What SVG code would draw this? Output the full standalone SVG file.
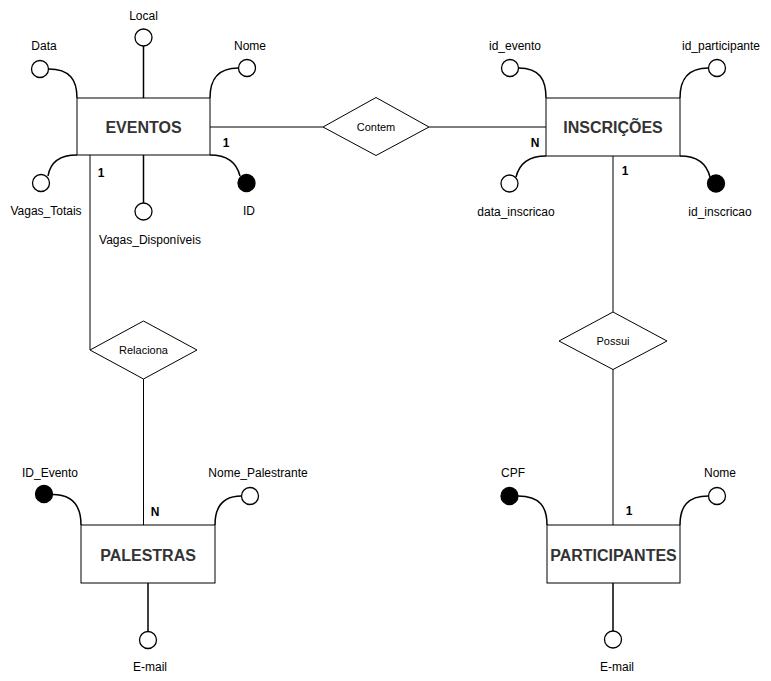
<svg xmlns="http://www.w3.org/2000/svg" width="771" height="681" viewBox="0 0 771 681">
<style>
.ent{fill:#fff;stroke:#000;stroke-width:1}
.rel{fill:#fff;stroke:#000;stroke-width:1}
.con{fill:none;stroke:#000;stroke-width:1}
.att{fill:none;stroke:#000;stroke-width:1.5}
.oc{fill:#fff;stroke:#000;stroke-width:1.3}
.fc{fill:#000;stroke:#000;stroke-width:1.3}
text{font-family:"Liberation Sans",Arial,sans-serif;text-anchor:middle}
.el{font-size:16px;font-weight:bold;fill:#333}
.al{font-size:12px;fill:#000}
.rl{font-size:11px;fill:#000}
.cl{font-size:12px;font-weight:bold;fill:#000}
</style>
<rect width="771" height="681" fill="#fff"/>
<g id="connectors">
<line class="con" x1="210" y1="127" x2="323" y2="127"/>
<line class="con" x1="429" y1="127" x2="546" y2="127"/>
<polyline class="con" points="90,155 90,350"/>
<line class="con" x1="143.5" y1="379" x2="143.5" y2="525"/>
<line class="con" x1="613" y1="156" x2="613" y2="312"/>
<line class="con" x1="613" y1="369" x2="613" y2="525"/>
<text class="cl" x="226" y="147">1</text>
<text class="cl" x="535" y="147">N</text>
<text class="cl" x="101" y="177">1</text>
<text class="cl" x="155" y="516">N</text>
<text class="cl" x="625" y="175">1</text>
<text class="cl" x="629" y="515">1</text>
</g>
<g id="eventos">
<rect class="ent" x="77" y="98" width="133" height="57"/>
<text class="el" x="143.5" y="132.5">EVENTOS</text>
<line class="att" x1="143.5" y1="46" x2="143.5" y2="98"/>
<circle class="oc" cx="143.5" cy="37.5" r="8.5"/>
<text class="al" x="143.5" y="19.5">Local</text>
<path class="att" d="M48.5,69 C70,69 77,80 77,98"/>
<circle class="oc" cx="40" cy="69" r="8.5"/>
<text class="al" x="44" y="49.5">Data</text>
<path class="att" d="M210,98 C210,80 217,68 238.5,68"/>
<circle class="oc" cx="247" cy="68" r="8.5"/>
<text class="al" x="250" y="49.5">Nome</text>
<path class="att" d="M77,155 C58,155 50,164 48,176"/>
<circle class="oc" cx="41" cy="183" r="8.5"/>
<text class="al" x="46" y="214.5">Vagas_Totais</text>
<line class="att" x1="143.5" y1="155" x2="143.5" y2="203"/>
<circle class="oc" cx="143.5" cy="211.5" r="8.5"/>
<text class="al" x="150" y="243.5">Vagas_Disponíveis</text>
<path class="att" d="M210,155 C229,155 237,164 240,176"/>
<circle class="fc" cx="246.5" cy="183" r="8.5"/>
<text class="al" x="249" y="214.5">ID</text>
</g>
<g id="contem">
<polygon class="rel" points="376,97.5 429,127 376,155.5 323,127"/>
<text class="rl" x="376" y="131">Contem</text>
</g>
<g id="inscricoes">
<rect class="ent" x="546" y="98" width="134" height="58"/>
<text class="el" x="613" y="132.5">INSCRIÇÕES</text>
<path class="att" d="M518.5,68 C540,68 546,80 546,98"/>
<circle class="oc" cx="510" cy="68" r="8.5"/>
<text class="al" x="515" y="49.5">id_evento</text>
<path class="att" d="M680,98 C680,80 687,68 708.5,68"/>
<circle class="oc" cx="717" cy="68" r="8.5"/>
<text class="al" x="721" y="49.5">id_participante</text>
<path class="att" d="M546,156 C527,156 519,165 516,177"/>
<circle class="oc" cx="509.5" cy="183.5" r="8.5"/>
<text class="al" x="516" y="215.5">data_inscricao</text>
<path class="att" d="M680,156 C699,156 707,165 710,177"/>
<circle class="fc" cx="716" cy="183.5" r="8.5"/>
<text class="al" x="720" y="215.5">id_inscricao</text>
</g>
<g id="relaciona">
<polygon class="rel" points="143.5,321 197,350 143.5,379 90,350"/>
<text class="rl" x="143.5" y="354">Relaciona</text>
</g>
<g id="possui">
<polygon class="rel" points="613,312 667,341 613,369.5 559,341"/>
<text class="rl" x="613" y="345">Possui</text>
</g>
<g id="palestras">
<rect class="ent" x="81" y="525" width="134" height="58"/>
<text class="el" x="148" y="560.5">PALESTRAS</text>
<path class="att" d="M52.5,494.5 C74,494.5 81,507 81,525"/>
<circle class="fc" cx="44" cy="494" r="8.5"/>
<text class="al" x="50" y="477">ID_Evento</text>
<path class="att" d="M215,525 C215,507 222,496 241.5,496"/>
<circle class="oc" cx="250" cy="496" r="8.5"/>
<text class="al" x="258" y="477">Nome_Palestrante</text>
<line class="att" x1="148" y1="583" x2="148" y2="632"/>
<circle class="oc" cx="148" cy="640" r="8.5"/>
<text class="al" x="150" y="671">E-mail</text>
</g>
<g id="participantes">
<rect class="ent" x="547" y="525" width="133" height="58"/>
<text class="el" x="613.5" y="560.5">PARTICIPANTES</text>
<path class="att" d="M518,496 C540,496 547,507 547,525"/>
<circle class="fc" cx="509.5" cy="496" r="8.5"/>
<text class="al" x="513" y="477">CPF</text>
<path class="att" d="M680,525 C680,507 687,496 708.5,496"/>
<circle class="oc" cx="717" cy="496" r="8.5"/>
<text class="al" x="720" y="477">Nome</text>
<line class="att" x1="613" y1="583" x2="613" y2="631"/>
<circle class="oc" cx="613" cy="639.5" r="8.5"/>
<text class="al" x="617" y="671">E-mail</text>
</g>
</svg>
